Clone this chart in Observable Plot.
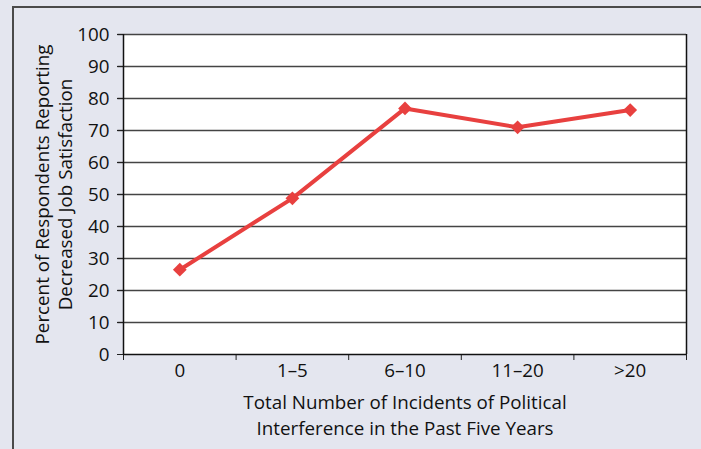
<!DOCTYPE html>
<html>
<head>
<meta charset="utf-8">
<script src="https://cdn.jsdelivr.net/npm/d3@7"></script>
<script src="https://cdn.jsdelivr.net/npm/@observablehq/plot@0.6"></script>
<style>
  html, body { margin: 0; padding: 0; background: #e4e6ef; width: 701px; height: 449px; overflow: hidden; }
  #border { position: absolute; left: 12px; top: 6px; width: 700px; height: 460px;
            border-top: 2px solid #4a4a4a; border-left: 2px solid #4a4a4a; box-sizing: border-box; }
  #chart { position: absolute; left: 0; top: 0; }
  #chart svg text { font-size: 18.8px; }
</style>
</head>
<body>
<div id="border"></div>
<div id="chart"></div>
<script>
const categories = ["0", "1–5", "6–10", "11–20", ">20"];
const percents = [26.5, 48.8, 76.9, 71.0, 76.4];
const yTicks = [0, 10, 20, 30, 40, 50, 60, 70, 80, 90, 100];
const yTitle = "Percent of Respondents Reporting\nDecreased Job Satisfaction";
const xTitle = "Total Number of Incidents of Political\nInterference in the Past Five Years";

const data = categories.map((c, i) => ({cat: c, pos: i + 0.5, value: percents[i]}));
const boundaries = d3.range(categories.length + 1);
const centers = categories.map((c, i) => i + 0.5);

const font = "'Open Sans', sans-serif";

const chart = Plot.plot({
  width: 701,
  height: 449,
  marginLeft: 123,
  marginRight: 15,
  marginTop: 34,
  marginBottom: 95,
  style: { fontFamily: font, fontSize: "18.8px", background: "transparent", color: "#111" },
  x: { domain: [0, categories.length] },
  y: { domain: [0, 100] },
  marks: [
    Plot.frame({ fill: "white", stroke: "none" }),
    Plot.ruleY(yTicks.filter(d => d > 0), { x1: -0.05, x2: categories.length, stroke: "#444", strokeWidth: 1.4, clip: false }),
    Plot.axisY({ ticks: yTicks, tickSize: 6, tickPadding: 8, label: null, fontSize: 18.8, stroke: "#222" }),
    Plot.axisX({ ticks: boundaries, tickSize: 6, tickFormat: () => "", label: null, stroke: "#222" }),
    Plot.axisX({ ticks: centers, tickSize: 0, tickPadding: 9, tickFormat: d => categories[Math.round(d - 0.5)], label: null, fontSize: 18.8 }),
    Plot.ruleX([0, categories.length], { stroke: "#111", strokeWidth: 1.5 }),
    Plot.ruleY([0], { stroke: "#111", strokeWidth: 1.5 }),
    Plot.line(data, { x: "pos", y: "value", stroke: "#e8403f", strokeWidth: 4 }),
    Plot.dot(data, { x: "pos", y: "value", symbol: "diamond2", r: 6.2, fill: "#e8403f", stroke: "none" }),
    Plot.text([yTitle], { frameAnchor: "left", dx: -70, rotate: -90, text: d => d, textAnchor: "middle", lineAnchor: "middle", lineHeight: 1.2, fontSize: 18.8, fill: "#111" }),
    Plot.text([xTitle], { frameAnchor: "bottom", dy: 59, text: d => d, textAnchor: "middle", lineAnchor: "middle", lineHeight: 1.37, fontSize: 18.8, fill: "#111" })
  ]
});
document.getElementById("chart").appendChild(chart);
</script>
</body>
</html>
